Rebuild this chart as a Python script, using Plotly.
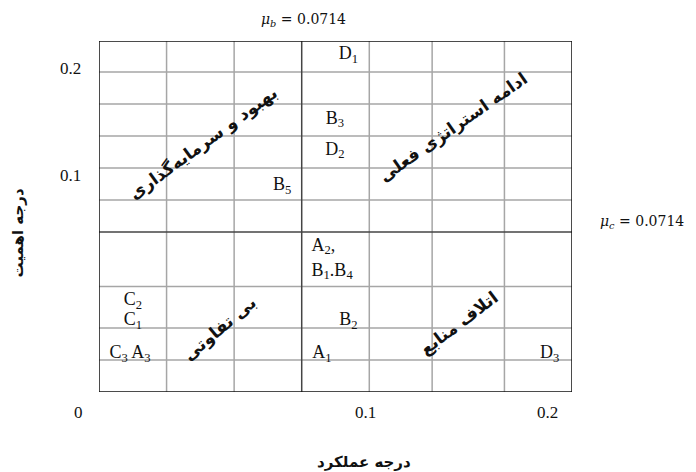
import plotly.graph_objects as go

# Grid-unit coordinates (columns across, rows up from the bottom)
labels = ["D<sub>1</sub>", "B<sub>3</sub>", "D<sub>2</sub>", "B<sub>5</sub>",
          "A<sub>2</sub>,", "B<sub>1</sub>.B<sub>4</sub>", "C<sub>2</sub>", "C<sub>1</sub>",
          "B<sub>2</sub>", "C<sub>3</sub> A<sub>3</sub>", "A<sub>1</sub>", "D<sub>3</sub>"]
perf = [3.69, 3.49, 3.49, 2.71, 3.32, 3.45, 0.50, 0.50, 3.69, 0.46, 3.30, 6.67]
imp = [10.55, 8.53, 7.56, 6.44, 4.56, 3.78, 2.85, 2.22, 2.22, 1.19, 1.19, 1.19]

x_grid = [1, 2, 4, 4.93, 6]
y_grid = [1, 2, 3.3, 6, 7, 8, 9, 10]
mu_b_x = 3.0
mu_c_y = 5.0
x_range = [0, 7]
y_range = [0, 10.97]

x_tick_text = ["0", "0.1", "0.2"]
x_tick_pos = [-0.044, 0.564, 0.949]
y_tick_text = ["0.2", "0.1"]
y_tick_pos = [0.923, 0.618]

quad_text = ["بهبود و سرمایه‌گذاری", "ادامه استراتژی فعلی", "بی تفاوتی", "اتلاف منابع"]
quad_x = [1.54, 5.24, 1.79, 5.33]
quad_y = [7.78, 8.28, 2.0, 2.13]
quad_angle = [-36, -35, -40, -37]

fig = go.Figure()

fig.add_trace(go.Scatter(
    x=perf, y=imp, mode="text", text=labels,
    textposition="middle center",
    textfont=dict(family="Liberation Serif", size=18, color="#111"),
    hoverinfo="skip", showlegend=False, cliponaxis=False))

shapes = []
for gx in x_grid:
    shapes.append(dict(type="line", xref="x", yref="y", x0=gx, x1=gx, y0=y_range[0], y1=y_range[1],
                       line=dict(color="#a6a6a6", width=1.5), layer="below"))
for gy in y_grid:
    shapes.append(dict(type="line", xref="x", yref="y", x0=x_range[0], x1=x_range[1], y0=gy, y1=gy,
                       line=dict(color="#a6a6a6", width=1.5), layer="below"))
shapes.append(dict(type="line", xref="x", yref="y", x0=mu_b_x, x1=mu_b_x, y0=y_range[0], y1=y_range[1],
                   line=dict(color="#444", width=1.5)))
shapes.append(dict(type="line", xref="x", yref="y", x0=x_range[0], x1=x_range[1], y0=mu_c_y, y1=mu_c_y,
                   line=dict(color="#444", width=1.5)))
shapes.append(dict(type="rect", xref="x", yref="y", x0=x_range[0], x1=x_range[1], y0=y_range[0], y1=y_range[1],
                   line=dict(color="#111", width=1.5)))

C = dict(xanchor="center", yanchor="middle", showarrow=False)

annotations = []
for t, p in zip(x_tick_text, x_tick_pos):
    annotations.append(dict(x=p, y=-0.057, xref="paper", yref="paper", text=t, **C,
                            font=dict(family="Liberation Serif", size=17, color="#111")))
for t, p in zip(y_tick_text, y_tick_pos):
    annotations.append(dict(x=-0.061, y=p, xref="paper", yref="paper", text=t, **C,
                            font=dict(family="Liberation Serif", size=17, color="#111")))
for t, qx, qy, a in zip(quad_text, quad_x, quad_y, quad_angle):
    annotations.append(dict(x=qx, y=qy, xref="x", yref="y", text="<b>" + t + "</b>", **C,
                            textangle=a, font=dict(family="DejaVu Sans", size=17, color="#111")))

annotations.append(dict(x=0.433, y=1.06, xref="paper", yref="paper",
                        text="<i>μ<sub>b</sub></i> = 0.0714", **C,
                        font=dict(family="DejaVu Serif", size=14, color="#111")))
annotations.append(dict(x=1.148, y=0.484, xref="paper", yref="paper",
                        text="<i>μ<sub>c</sub></i> = 0.0714", **C,
                        font=dict(family="DejaVu Serif", size=14, color="#111")))
annotations.append(dict(x=0.561, y=-0.2, xref="paper", yref="paper",
                        text="<b>درجه عملکرد</b>", **C,
                        font=dict(family="DejaVu Sans", size=15, color="#111")))
annotations.append(dict(x=-0.171, y=0.452, xref="paper", yref="paper",
                        text="<b>درجه اهمیت</b>", textangle=-90, **C,
                        font=dict(family="DejaVu Sans", size=15, color="#111")))

fig.update_layout(
    width=688, height=464,
    margin=dict(l=91, r=124, t=33, b=80),
    paper_bgcolor="white", plot_bgcolor="white",
    xaxis=dict(range=x_range, showgrid=False, zeroline=False, showticklabels=False,
               ticks="", fixedrange=True),
    yaxis=dict(range=y_range, showgrid=False, zeroline=False, showticklabels=False,
               ticks="", fixedrange=True),
    shapes=shapes, annotations=annotations,
)

fig.write_html("out.html")
